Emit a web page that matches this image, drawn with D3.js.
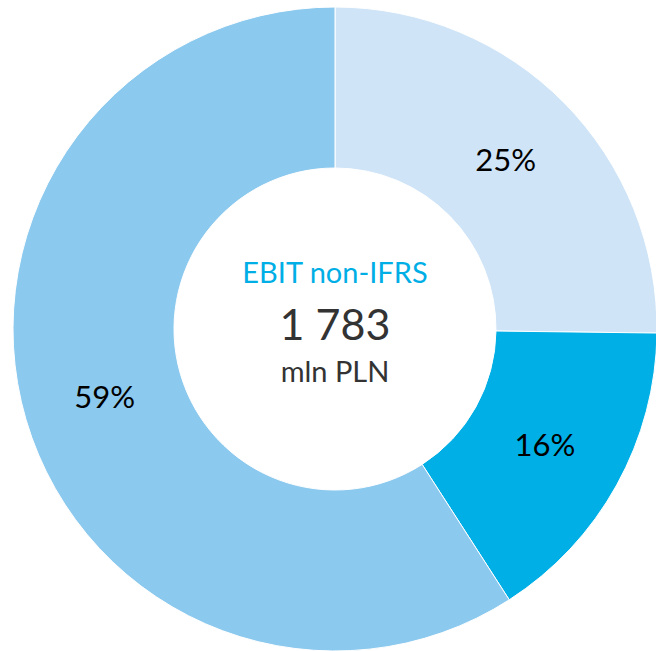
<!DOCTYPE html>
<html>
<head>
<meta charset="utf-8">
<script src="https://cdn.jsdelivr.net/npm/d3@7"></script>
<style>
  body { margin: 0; background: #fff; }
  svg { display: block; font-family: Lato, "Open Sans", sans-serif; }
</style>
</head>
<body>
<svg id="chart" width="656" height="651"></svg>
<script>
// slices, clockwise from 12 o'clock
const segments = ['A', 'B', 'C'];
const shares = [25.2, 15.7, 59.1];
const labels = ['25%', '16%', '59%'];
const colors = ['#cfe4f7', '#00afe6', '#8cc9ee'];

const title = 'EBIT non-IFRS';
const total = '1 783';
const unit = 'mln PLN';

const cx = 335, cy = 329;
const outerR = 322, innerR = 161;

let svg = d3.select('#chart');
let g = svg.append('g').attr('transform', `translate(${cx}, ${cy})`);

let pie = d3.pie().sort(null).value(d => d.v);
let data = pie(segments.map((s, i) => ({ k: s, v: shares[i], l: labels[i], c: colors[i] })));

let arc = d3.arc().innerRadius(innerR).outerRadius(outerR);
let labelArc = d3.arc().innerRadius(240).outerRadius(240);

g.selectAll('path')
  .data(data)
  .enter()
    .append('path')
    .attr('d', arc)
    .style('fill', d => d.data.c)
    .style('stroke', '#fff')
    .style('stroke-width', 1);

g.selectAll('text.lbl')
  .data(data)
  .enter()
    .append('text')
    .attr('class', 'lbl')
    .attr('transform', d => `translate(${labelArc.centroid(d)})`)
    .attr('dy', '0.35em')
    .style('text-anchor', 'middle')
    .style('font-size', '31px')
    .style('fill', '#000')
    .text(d => d.data.l);

// centre text
g.append('text').attr('y', -46).style('text-anchor', 'middle')
  .style('font-size', '29px').style('fill', '#00aee6').text(title);
g.append('text').attr('y', 11).style('text-anchor', 'middle')
  .style('font-size', '43px').style('fill', '#333').text(total);
g.append('text').attr('y', 53).style('text-anchor', 'middle')
  .style('font-size', '29px').style('fill', '#333').text(unit);
</script>
</body>
</html>
